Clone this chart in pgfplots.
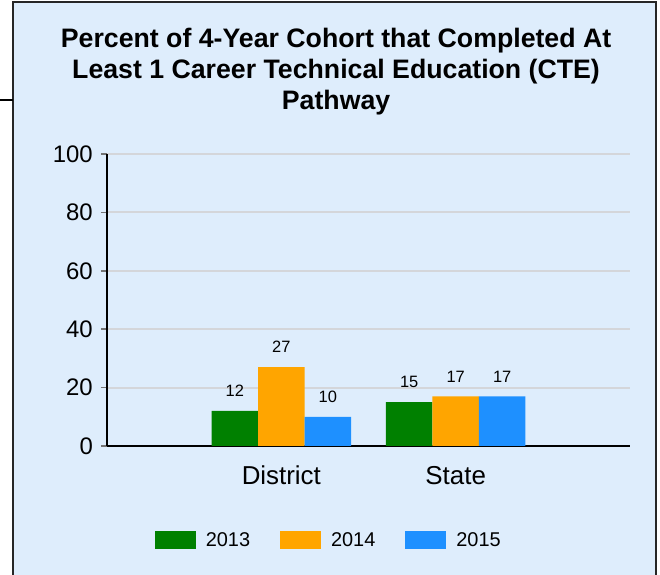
\documentclass[border=0pt]{standalone}
\usepackage{pgfplots}
\pgfplotsset{compat=1.18}
\usepackage{fontspec}
\setmainfont{Liberation Sans}
\definecolor{bg}{RGB}{222,237,252}
\definecolor{gridc}{RGB}{212,214,218}
\definecolor{cgreen}{RGB}{0,128,0}
\definecolor{corange}{RGB}{255,165,0}
\definecolor{cblue}{RGB}{30,144,255}
\pgfplotsset{boxleg/.style={legend image code/.code={\fill[##1,draw=none] (0bp,-9bp) rectangle (41bp,9bp);}}}
\begin{document}
\begin{tikzpicture}
\useasboundingbox (0bp,0bp) rectangle (660bp,575bp);
\fill[bg] (13bp,0bp) rectangle (656bp,573bp);
\draw[line width=2bp, black!85] (13bp,0bp) -- (13bp,573bp) -- (656bp,573bp) -- (656bp,0bp);
\draw[line width=1.5bp] (0bp,475bp) -- (13bp,475bp);
\begin{axis}[
  at={(107bp,129bp)}, anchor=south west,
  scale only axis, width=523bp, height=292bp,
  xmin=-1, xmax=2, ymin=0, ymax=100,
  enlargelimits=false,
  ybar=0pt, bar width=46.5bp,
  xtick={0,1}, xticklabels={District,State},
  ytick={0,20,...,100},
  axis lines=left,
  axis line style={-, line width=2bp, black},
  tick align=outside, major tick length=6bp,
  xtick style={draw=none},
  ytick style={draw=black!55, line width=1.5bp},
  ymajorgrids, grid style={line width=2bp, gridc},
  /pgf/number format/assume math mode=true,
  yticklabel style={font=\fontsize{24}{24}\selectfont, inner sep=0pt, xshift=-8bp},
  xticklabel style={font=\fontsize{26}{26}\selectfont, inner sep=0pt, anchor=north, yshift=-14bp},
  nodes near coords,
  nodes near coords style={font=\fontsize{16.5}{16.5}\selectfont, anchor=south, inner sep=0pt, yshift=14bp, text=black},
  title={Percent of 4-Year Cohort that Completed At\\Least 1 Career Technical Education (CTE)\\Pathway},
  title style={at={(0.438,1.262)}, anchor=center, align=center, font=\bfseries\fontsize{26.8}{31.5}\selectfont, inner sep=0pt},
  legend columns=3,
  legend style={at={(0.424,-0.322)}, anchor=center, draw=none, fill=none,
    font=\fontsize{20}{20}\selectfont,
    /tikz/every odd column/.append style={column sep=8bp},
    /tikz/every even column/.append style={column sep=28bp}},
]
\addplot[fill=cgreen, draw=none, boxleg] coordinates {(0,12) (1,15)};
\addplot[fill=corange, draw=none, boxleg] coordinates {(0,27) (1,17)};
\addplot[fill=cblue, draw=none, boxleg] coordinates {(0,10) (1,17)};
\legend{2013,2014,2015}
\end{axis}
\end{tikzpicture}
\end{document}
